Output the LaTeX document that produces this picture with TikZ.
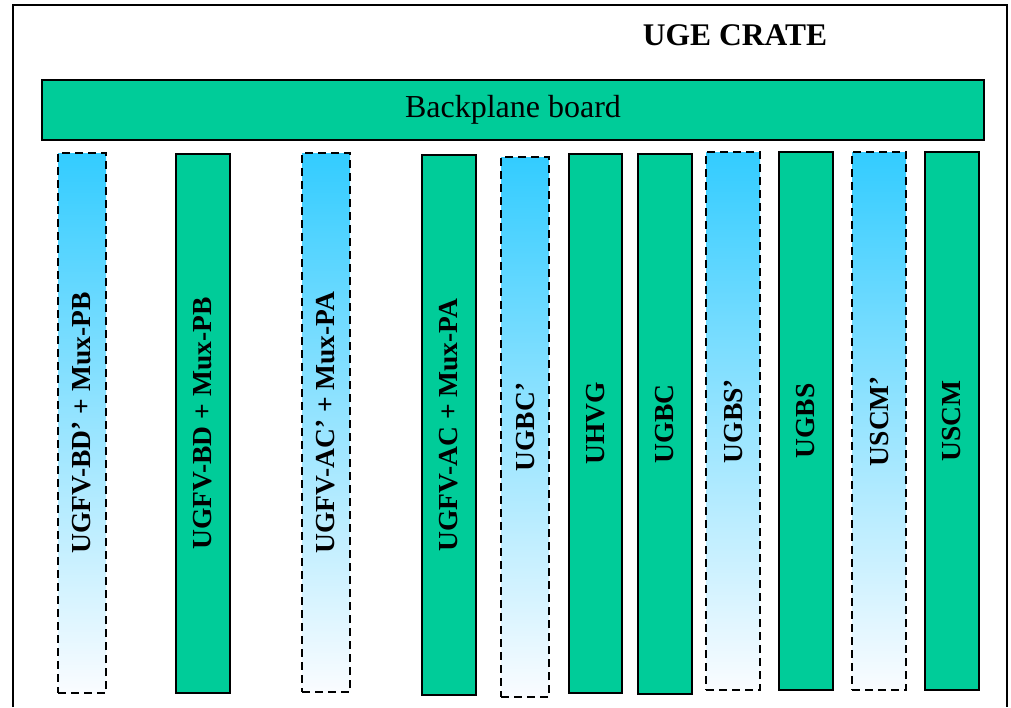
\documentclass[tikz,border=0pt]{standalone}
\usepackage{fontspec}
\setmainfont{Liberation Serif}
\definecolor{cardgreen}{HTML}{00CC99}
\definecolor{cardblue}{HTML}{33CCFF}
\definecolor{cardwhite}{HTML}{FAFCFF}
\begin{document}
\begin{tikzpicture}[x=1pt,y=-1pt,
  board/.style={draw=black, line width=1.8pt, fill=cardgreen, inner sep=0pt},
  greencard/.style={draw=black, line width=1.6pt, fill=cardgreen, inner sep=0pt},
  bluecard/.style={draw=black, line width=1.8pt, dashed, dash pattern=on 8pt off 5pt, top color=cardblue, bottom color=cardwhite, inner sep=0pt},
  cardtext/.style={rotate=90, font=\fontsize{27.5}{27.5}\selectfont\bfseries, inner sep=0pt},
  frame/.style={line width=2pt}
]
\useasboundingbox (0,0) rectangle (1011,707);
% frame
\coordinate (fbl) at (13,707);
\coordinate (ftl) at (13,5);
\coordinate (ftr) at (1007,5);
\coordinate (fbr) at (1007,707);
\draw[frame] (fbl) -- (ftl) -- (ftr) -- (fbr);
% title
\node[font=\fontsize{31.5}{31.5}\selectfont\bfseries] (title) at (735,35) {UGE CRATE};
% backplane
\node[board, minimum width=942pt, minimum height=60pt, font=\fontsize{32}{32}\selectfont] (bp) at (513,110) {Backplane board};
% cards
\node[bluecard, minimum width=48pt, minimum height=540pt] (c1) at (82,423) {};
\node[cardtext] (t1) at (c1) {UGFV-BD’ + Mux-PB};
\node[greencard, minimum width=54pt, minimum height=539pt] (c2) at (203,423.5) {};
\node[cardtext] (t2) at (c2) {UGFV-BD + Mux-PB};
\node[bluecard, minimum width=48pt, minimum height=539pt] (c3) at (326,422.5) {};
\node[cardtext] (t3) at (c3) {UGFV-AC’ + Mux-PA};
\node[greencard, minimum width=54pt, minimum height=540pt] (c4) at (449,425) {};
\node[cardtext] (t4) at (c4) {UGFV-AC + Mux-PA};
\node[bluecard, minimum width=48pt, minimum height=540pt] (c5) at (525,427) {};
\node[cardtext] (t5) at (c5) {UGBC’};
\node[greencard, minimum width=53pt, minimum height=539pt] (c6) at (595.5,423.5) {};
\node[cardtext] (t6) at (c6) {UHVG};
\node[greencard, minimum width=54pt, minimum height=540pt] (c7) at (665,424) {};
\node[cardtext] (t7) at (c7) {UGBC};
\node[bluecard, minimum width=54pt, minimum height=538pt] (c8) at (733,421) {};
\node[cardtext] (t8) at (c8) {UGBS’};
\node[greencard, minimum width=54pt, minimum height=538pt] (c9) at (806,421) {};
\node[cardtext] (t9) at (c9) {UGBS};
\node[bluecard, minimum width=54pt, minimum height=538pt] (c10) at (879,421) {};
\node[cardtext] (t10) at (c10) {USCM’};
\node[greencard, minimum width=54pt, minimum height=538pt] (c11) at (952,421) {};
\node[cardtext] (t11) at (c11) {USCM};
\end{tikzpicture}
\end{document}
